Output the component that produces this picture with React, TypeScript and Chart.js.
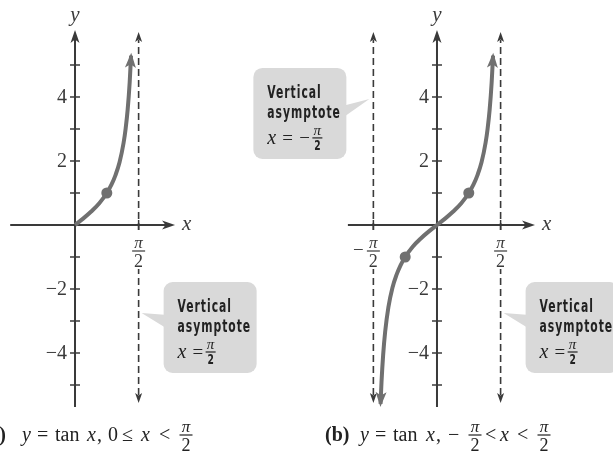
import React, { useEffect, useRef } from "react";
import { Chart, registerables } from "chart.js";

Chart.register(...registerables);

// ---------- data ----------
// Panel (a): y = tan x, 0 <= x < pi/2
const curveAX = [0, 0.2, 0.4, 0.6, 0.785, 0.9, 1.0, 1.1, 1.2, 1.25, 1.3, 1.35, 1.384];
const curveAY = [0, 0.2, 0.42, 0.68, 1, 1.26, 1.56, 1.96, 2.57, 3.01, 3.6, 4.46, 5.29];
// Panel (b): y = tan x, -pi/2 < x < pi/2
const curveBX = [-1.394, -1.37, -1.33, -1.28, -1.2, -1.1, -1.0, -0.9, -0.785, -0.6, -0.4, -0.2, 0, 0.2, 0.4, 0.6, 0.785, 0.9, 1.0, 1.1, 1.2, 1.25, 1.3, 1.35, 1.384];
const curveBY = [-5.59, -4.91, -4.07, -3.34, -2.57, -1.96, -1.56, -1.26, -1, -0.68, -0.42, -0.2, 0, 0.2, 0.42, 0.68, 1, 1.26, 1.56, 1.96, 2.57, 3.01, 3.6, 4.46, 5.29];
// highlighted points
const markAX = [0.785];
const markAY = [1];
const markBX = [-0.785, 0.785];
const markBY = [-1, 1];
// asymptotes
const asymptotesA = [1.5708];
const asymptotesB = [-1.5708, 1.5708];
const asymptoteBottom = -5.56;
const asymptoteTop = 6.03;
// axes
const yTickValues = [-5, -4, -3, -2, -1, 1, 2, 3, 4, 5];
const yLabelValues = [-4, -2, 2, 4];
const yLabelTexts = ["\u22124", "\u22122", "2", "4"];
const xTickValuesA = [1.5708];
const xTickValuesB = [-1.5708, 1.5708];
const yAxisBottom = -5.69;
const yAxisTop = 6.09;
const xAxisA = [-1.6, 2.47];
const xAxisB = [-2.2, 2.42];
// callout anchor heights (y value where pointer touches asymptote)
const calloutTipYA = [-2.75];
const calloutTipYB = [3.94, -2.75];

// ---------- styles ----------
const AX = "#3a3a3a";
const CURVE = "#707070";
const BOX = "#d9d9d9";
const TXT = "#222222";
const SERIF = "'Liberation Serif', 'Times New Roman', serif";
const COND = "'DejaVu Sans Condensed', 'DejaVu Sans', sans-serif";

const pts = (xs: number[], ys: number[]) => xs.map((x, i) => ({ x, y: ys[i] }));

function arrowHead(ctx: CanvasRenderingContext2D, tx: number, ty: number, dx: number, dy: number, len: number, hw: number, notch: number, color: string) {
  const m = Math.hypot(dx, dy);
  const ux = dx / m, uy = dy / m;
  const px = -uy, py = ux;
  const bx = tx - ux * len, by = ty - uy * len;
  ctx.beginPath();
  ctx.moveTo(tx, ty);
  ctx.lineTo(bx + px * hw, by + py * hw);
  ctx.lineTo(tx - ux * (len - notch), ty - uy * (len - notch));
  ctx.lineTo(bx - px * hw, by - py * hw);
  ctx.closePath();
  ctx.fillStyle = color;
  ctx.fill();
}

function line(ctx: CanvasRenderingContext2D, x1: number, y1: number, x2: number, y2: number) {
  ctx.beginPath();
  ctx.moveTo(x1, y1);
  ctx.lineTo(x2, y2);
  ctx.stroke();
}

function fraction(ctx: CanvasRenderingContext2D, cx: number, barY: number, numFont: string, denFont: string, hw: number, color: string, denCond = false) {
  ctx.save();
  ctx.fillStyle = color;
  ctx.textAlign = "center";
  ctx.textBaseline = "alphabetic";
  ctx.font = numFont;
  ctx.fillText("\u03c0", cx, barY - 3);
  ctx.fillRect(cx - hw, barY - 0.6, hw * 2, 1.2);
  ctx.textBaseline = "top";
  ctx.font = denFont;
  if (denCond) {
    ctx.translate(cx, barY + 2);
    ctx.scale(0.85, 1.15);
    ctx.fillText("2", 0, 0);
  } else {
    ctx.fillText("2", cx, barY + 2);
  }
  ctx.restore();
}

function drawAxes(ctx: CanvasRenderingContext2D, xs: any, ys: any, xRange: number[], xTicks: number[]) {
  const ox = xs.getPixelForValue(0);
  const oy = ys.getPixelForValue(0);
  ctx.save();
  ctx.strokeStyle = AX;
  ctx.lineWidth = 2;
  const xEnd = xs.getPixelForValue(xRange[1]);
  line(ctx, xs.getPixelForValue(xRange[0]), oy, xEnd - 8, oy);
  arrowHead(ctx, xEnd, oy, 1, 0, 13, 4.5, 3.5, AX);
  const yTop = ys.getPixelForValue(yAxisTop);
  line(ctx, ox, ys.getPixelForValue(yAxisBottom), ox, yTop + 8);
  arrowHead(ctx, ox, yTop, 0, -1, 13, 4.5, 3.5, AX);
  ctx.lineWidth = 1.5;
  yTickValues.forEach((v) => {
    const p = ys.getPixelForValue(v);
    line(ctx, ox - 5, p, ox + 5, p);
  });
  xTicks.forEach((v) => {
    const p = xs.getPixelForValue(v);
    line(ctx, p, oy - 5, p, oy + 5);
  });
  ctx.restore();
}

function drawAxisLabels(ctx: CanvasRenderingContext2D, xs: any, ys: any, xRange: number[], xTicks: number[]) {
  const ox = xs.getPixelForValue(0);
  const oy = ys.getPixelForValue(0);
  ctx.save();
  ctx.fillStyle = AX;
  ctx.font = `20px ${SERIF}`;
  ctx.textAlign = "right";
  ctx.textBaseline = "middle";
  yLabelValues.forEach((v, i) => {
    ctx.fillText(yLabelTexts[i], ox - 8, ys.getPixelForValue(v) + 1);
  });
  xTicks.forEach((v) => {
    const cx = xs.getPixelForValue(v);
    const barY = oy + 26;
    // clear the dashed asymptote behind the label
    ctx.fillStyle = "#ffffff";
    ctx.fillRect(cx - 8, oy + 8, 16, 36);
    ctx.fillStyle = AX;
    if (v < 0) {
      ctx.font = `19px ${SERIF}`;
      ctx.textAlign = "center";
      ctx.textBaseline = "middle";
      ctx.fillText("\u2212", cx - 15, barY);
    }
    fraction(ctx, cx, barY, `italic 17px ${SERIF}`, `18px ${SERIF}`, 6.5, AX);
  });
  ctx.font = `italic 21px ${SERIF}`;
  ctx.textAlign = "center";
  ctx.textBaseline = "middle";
  ctx.fillText("y", ox, 15);
  ctx.textAlign = "left";
  ctx.fillText("x", xs.getPixelForValue(xRange[1]) + 7, oy - 1);
  ctx.restore();
}

function condText(ctx: CanvasRenderingContext2D, t: string, x: number, y: number) {
  ctx.save();
  ctx.translate(x, y);
  ctx.scale(0.8, 1.2);
  ctx.fillText(t, 0, 0);
  ctx.restore();
}

function callout(ctx: CanvasRenderingContext2D, asymPx: number, tipPy: number, onRight: boolean, neg: boolean) {
  const W = 93, H = 91;
  const tipX = onRight ? asymPx + 3 : asymPx - 4;
  const boxX = onRight ? asymPx + 25 : asymPx - 27 - W;
  const boxY = tipPy - 31;
  const edge = onRight ? boxX + 4 : boxX + W - 4;
  ctx.save();
  ctx.fillStyle = BOX;
  ctx.beginPath();
  ctx.roundRect(boxX, boxY, W, H, 9);
  ctx.fill();
  ctx.beginPath();
  if (onRight) {
    ctx.moveTo(tipX, tipPy);
    ctx.lineTo(edge, boxY + 33);
    ctx.lineTo(edge, boxY + 47);
  } else {
    ctx.moveTo(tipX, tipPy);
    ctx.lineTo(edge, boxY + 38);
    ctx.lineTo(edge, boxY + 50);
  }
  ctx.closePath();
  ctx.fill();

  const x0 = boxX + 14;
  ctx.fillStyle = TXT;
  ctx.textAlign = "left";
  ctx.textBaseline = "alphabetic";
  ctx.font = `bold 15px ${COND}`;
  (ctx as any).letterSpacing = "1.2px";
  condText(ctx, "Vertical", x0, boxY + 30);
  condText(ctx, "asymptote", x0, boxY + 50);
  (ctx as any).letterSpacing = "0px";
  ctx.font = `italic 20px ${SERIF}`;
  ctx.fillText("x", x0, boxY + 76);
  ctx.font = `19px ${SERIF}`;
  ctx.fillText("=", x0 + 15, boxY + 76);
  let fc = x0 + 33;
  if (neg) {
    ctx.fillText("\u2212", x0 + 32, boxY + 76);
    fc = x0 + 50;
  }
  fraction(ctx, fc, boxY + 70, `italic 15px ${SERIF}`, `bold 12px ${COND}`, 5, TXT, true);
  ctx.restore();
}

function drawCaptions(ctx: CanvasRenderingContext2D) {
  const base = 441;
  const barY = 435;
  ctx.save();
  ctx.fillStyle = TXT;
  const put = (t: string, x: number, font: string, align: CanvasTextAlign = "left") => {
    ctx.font = font;
    ctx.textAlign = align;
    ctx.textBaseline = "alphabetic";
    ctx.fillText(t, x, base);
  };
  const R = `20px ${SERIF}`, I = `italic 20px ${SERIF}`, B = `bold 20px ${SERIF}`;
  // (a)
  put("(a)", 6, B, "right");
  put("y", 22, I);
  put("=", 37, R);
  put("tan", 55, R);
  put("x", 87, I);
  put(",", 97, R);
  put("0", 108, R);
  put("\u2264", 122, R);
  put("x", 141, I);
  put("<", 159, R);
  fraction(ctx, 186, barY, `italic 17px ${SERIF}`, `18px ${SERIF}`, 6.5, TXT);
  // (b)
  put("(b)", 325, B);
  put("y", 360, I);
  put("=", 375, R);
  put("tan", 393, R);
  put("x", 426, I);
  put(",", 436, R);
  put("\u2212", 448, R);
  fraction(ctx, 475, barY, `italic 17px ${SERIF}`, `18px ${SERIF}`, 6.5, TXT);
  put("<", 485, R);
  put("x", 500, I);
  put("<", 517, R);
  fraction(ctx, 544, barY, `italic 17px ${SERIF}`, `18px ${SERIF}`, 6.5, TXT);
  ctx.restore();
}

const decor = {
  id: "decor",
  beforeDatasetsDraw(chart: any) {
    const ctx = chart.ctx as CanvasRenderingContext2D;
    const s = chart.scales;
    drawAxes(ctx, s.xA, s.y, xAxisA, xTickValuesA);
    drawAxes(ctx, s.xB, s.y, xAxisB, xTickValuesB);
  },
  afterDatasetsDraw(chart: any) {
    const ctx = chart.ctx as CanvasRenderingContext2D;
    const s = chart.scales;
    // asymptote arrowheads
    const asym = [
      ...asymptotesA.map((v) => s.xA.getPixelForValue(v)),
      ...asymptotesB.map((v) => s.xB.getPixelForValue(v)),
    ];
    asym.forEach((px) => {
      arrowHead(ctx, px, s.y.getPixelForValue(asymptoteTop), 0, -1, 10, 3.5, 2.5, AX);
      arrowHead(ctx, px, s.y.getPixelForValue(asymptoteBottom), 0, 1, 10, 3.5, 2.5, AX);
    });
    // curve arrowheads
    const endArrow = (meta: any, a: number, b: number) => {
      const p = meta.data[b], q = meta.data[a];
      const dx = p.x - q.x, dy = p.y - q.y;
      const m = Math.hypot(dx, dy);
      arrowHead(ctx, p.x + (dx / m) * 3, p.y + (dy / m) * 3, dx, dy, 15, 5.5, 3.5, CURVE);
    };
    const mA = chart.getDatasetMeta(2);
    const mB = chart.getDatasetMeta(3);
    endArrow(mA, mA.data.length - 2, mA.data.length - 1);
    endArrow(mB, mB.data.length - 2, mB.data.length - 1);
    endArrow(mB, 1, 0);

    drawAxisLabels(ctx, s.xA, s.y, xAxisA, xTickValuesA);
    drawAxisLabels(ctx, s.xB, s.y, xAxisB, xTickValuesB);

    callout(ctx, s.xA.getPixelForValue(asymptotesA[0]), s.y.getPixelForValue(calloutTipYA[0]), true, false);
    callout(ctx, s.xB.getPixelForValue(asymptotesB[0]), s.y.getPixelForValue(calloutTipYB[0]), false, true);
    callout(ctx, s.xB.getPixelForValue(asymptotesB[1]), s.y.getPixelForValue(calloutTipYB[1]), true, false);

    drawCaptions(ctx);
  },
};

export default function App() {
  const ref = useRef<HTMLCanvasElement>(null);
  useEffect(() => {
    const asymDs = (axis: string, v: number) => ({
      xAxisID: axis,
      yAxisID: "y",
      data: [{ x: v, y: asymptoteBottom + 0.25 }, { x: v, y: asymptoteTop - 0.25 }],
      showLine: true,
      borderColor: AX,
      borderWidth: 1.6,
      borderDash: [7, 4],
      pointRadius: 0,
    });
    const chart = new Chart(ref.current as HTMLCanvasElement, {
      type: "scatter",
      data: {
        datasets: [
          { xAxisID: "xA", yAxisID: "y", data: pts(markAX, markAY), pointRadius: 5.5, backgroundColor: CURVE, borderWidth: 0, showLine: false },
          { xAxisID: "xB", yAxisID: "y", data: pts(markBX, markBY), pointRadius: 5.5, backgroundColor: CURVE, borderWidth: 0, showLine: false },
          { xAxisID: "xA", yAxisID: "y", data: pts(curveAX, curveAY), showLine: true, borderColor: CURVE, borderWidth: 4, pointRadius: 0, cubicInterpolationMode: "monotone" },
          { xAxisID: "xB", yAxisID: "y", data: pts(curveBX, curveBY), showLine: true, borderColor: CURVE, borderWidth: 4, pointRadius: 0, cubicInterpolationMode: "monotone" },
          ...asymptotesA.map((v) => asymDs("xA", v)),
          ...asymptotesB.map((v) => asymDs("xB", v)),
        ] as any,
      },
      options: {
        animation: false,
        responsive: false,
        devicePixelRatio: 1,
        events: [],
        layout: { padding: 0, autoPadding: false },
        plugins: { legend: { display: false }, tooltip: { enabled: false } },
        scales: {
          xA: { type: "linear", axis: "x", display: false, min: -1.852, max: 13.284 },
          xB: { type: "linear", axis: "x", display: false, min: -10.79, max: 4.346 },
          y: { type: "linear", display: false, min: -7.1875, max: 7.031 },
        } as any,
      },
      plugins: [decor],
    });
    return () => chart.destroy();
  }, []);
  return (
    <div style={{ position: "fixed", left: 0, top: 0, width: 613, height: 455, background: "#fff" }}>
      <canvas ref={ref} width={613} height={455} style={{ display: "block" }} />
    </div>
  );
}
